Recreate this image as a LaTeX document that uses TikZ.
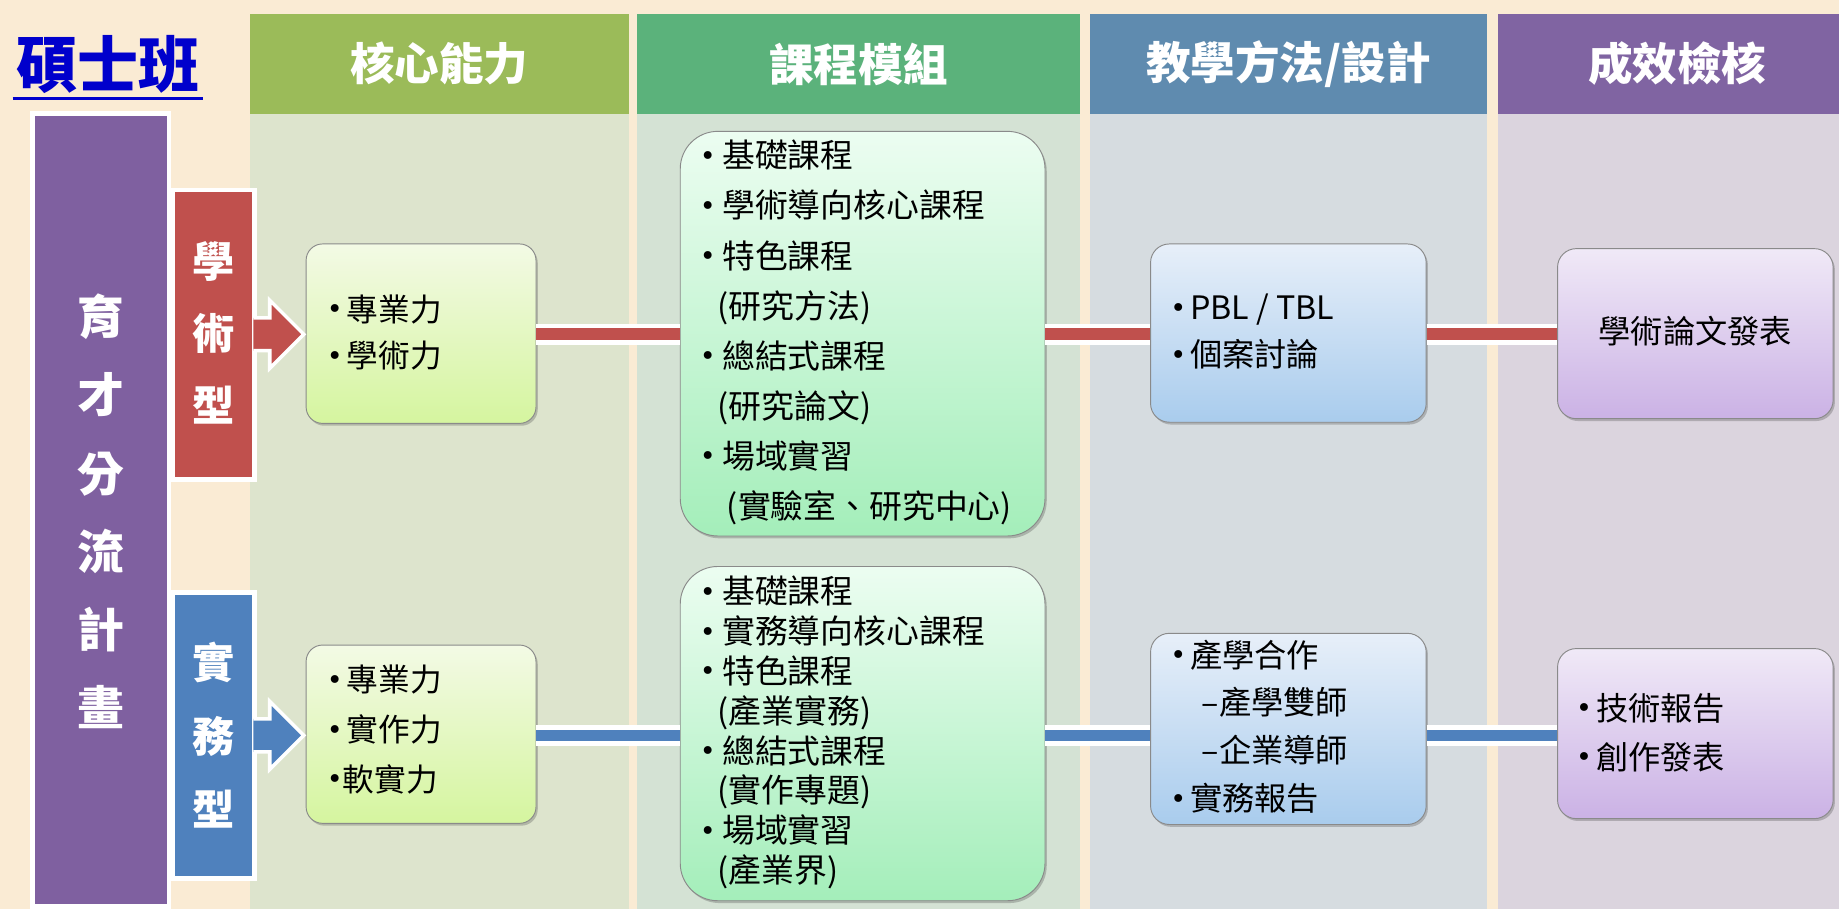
\documentclass[tikz,border=0pt]{standalone}
\usepackage{fontspec}
\setmainfont{Noto Sans CJK TC}
\newfontfamily\bulf{DejaVu Sans}
\usetikzlibrary{calc,shadows}
\definecolor{bgc}{HTML}{FAEBD4}
\definecolor{hA}{HTML}{9BBB59}\definecolor{kA}{HTML}{DDE4CD}
\definecolor{hB}{HTML}{5BB27B}\definecolor{kB}{HTML}{D4E2D4}
\definecolor{hC}{HTML}{5F8BAF}\definecolor{kC}{HTML}{D6DCE0}
\definecolor{hD}{HTML}{8064A2}\definecolor{kD}{HTML}{DBD4DE}
\definecolor{ycol}{HTML}{7F60A0}
\definecolor{redc}{HTML}{C0504D}
\definecolor{bluec}{HTML}{4F81BD}
\definecolor{titleblue}{HTML}{0000CC}
\definecolor{boxline}{HTML}{8A8A8A}
\definecolor{gAt}{HTML}{F3FAE5}\definecolor{gAb}{HTML}{D5F59F}
\definecolor{gBt}{HTML}{ECFDF1}\definecolor{gBb}{HTML}{A4EEBA}
\definecolor{gCt}{HTML}{E7EFF9}\definecolor{gCb}{HTML}{A9CCED}
\definecolor{gDt}{HTML}{F0E9F7}\definecolor{gDb}{HTML}{CBB2E5}
\newcommand\dotglyph{\raisebox{2pt}{\bulf\fontsize{23}{23}\selectfont •}}
\newcommand\bu{\makebox[19pt][l]{\dotglyph}}
\newcommand\bus{\makebox[17pt][l]{\dotglyph}}
\newcommand\bun{\makebox[13.5pt][l]{\dotglyph}}
\newcommand\blkarrow[2]{%
  \fill[#2] (#1) ++(0,-14) -- ++(14,0) -- ++(0,-15) -- ++(29,29) -- ++(-29,29) -- ++(0,-15) -- ++(-14,0) -- cycle;
  \draw[white,line width=3pt,line join=miter] (#1) ++(0,-14) -- ++(14,0) -- ++(0,-15) -- ++(29,29) -- ++(-29,29) -- ++(0,-15) -- ++(-14,0);}
\begin{document}
\begin{tikzpicture}[x=1pt,y=-1pt,
  hdr/.style={rectangle,inner sep=0,minimum height=85pt},
  colbody/.style={rectangle,inner sep=0,minimum height=678pt},
  hdrtxt/.style={text=white,inner sep=0,font=\fontsize{38}{46}\selectfont\bfseries},
  catbox/.style={rectangle,draw=white,line width=4pt,inner sep=0},
  vtxt/.style={text=white,inner sep=0,align=center},
  boxbase/.style={draw=boxline,line width=0.8pt,inner sep=0,
    drop shadow={shadow xshift=1.5pt,shadow yshift=-2pt,opacity=0.3,fill=black!70}},
  boxA/.style={boxbase,rounded corners=14pt,top color=gAt,bottom color=gAb,minimum width=196pt},
  boxB/.style={boxbase,rounded corners=32pt,top color=gBt,bottom color=gBb,minimum width=311pt},
  boxC/.style={boxbase,rounded corners=16pt,top color=gCt,bottom color=gCb,minimum width=235pt},
  boxD/.style={boxbase,rounded corners=16pt,top color=gDt,bottom color=gDb,minimum width=235pt},
  txt/.style={align=left,inner sep=0,text=black},
  redbar/.style={draw=redc,line width=10pt,preaction={draw=white,line width=18pt}},
  bluebar/.style={draw=bluec,line width=10pt,preaction={draw=white,line width=18pt}}]
\useasboundingbox (0,0) rectangle (1568,775);
\fill[bgc] (0,0) rectangle (1568,775);
% columns
\node[hdr,fill=hA,minimum width=323pt] (hA) at (374.5,54.5) {};
\node[hdr,fill=hB,minimum width=378pt] (hB) at (732,54.5) {};
\node[hdr,fill=hC,minimum width=339pt] (hC) at (1098.5,54.5) {};
\node[hdr,fill=hD,minimum width=291pt] (hD) at (1422.5,54.5) {};
\node[colbody,fill=kA,minimum width=323pt] (kA) at (374.5,436) {};
\node[colbody,fill=kB,minimum width=378pt] (kB) at (732,436) {};
\node[colbody,fill=kC,minimum width=339pt] (kC) at (1098.5,436) {};
\node[colbody,fill=kD,minimum width=291pt] (kD) at (1422.5,436) {};
\node[hdrtxt] (hAt) at (hA) {核心能力};
\node[hdrtxt] (hBt) at (hB) {課程模組};
\node[hdrtxt] (hCt) at (hC) {教學方法/設計};
\node[hdrtxt] (hDt) at (1430,54.5) {成效檢核};
% title
\node[inner sep=0,text=titleblue,font=\fontsize{52}{60}\selectfont\bfseries] (title) at (92,55) {碩士班};
\coordinate (ul) at (0,84);
\draw[titleblue,line width=3pt] ($(title.west |- ul)+(-3,0)$) -- ($(title.east |- ul)+(3,0)$);
% left category boxes
\node[catbox,fill=ycol,minimum width=116pt,minimum height=676pt] (yc) at (86,435) {};
\node[vtxt,font=\fontsize{40}{66.6}\selectfont\bfseries] (yct) at (86,436) {育\\才\\分\\流\\計\\畫};
\node[catbox,fill=redc,minimum width=70pt,minimum height=247pt] (xa) at (182,285.5) {};
\node[vtxt,font=\fontsize{36}{61.5}\selectfont\bfseries] (xat) at (182,284) {學\\術\\型};
\node[catbox,fill=bluec,minimum width=70pt,minimum height=244pt] (xb) at (182,627) {};
\node[vtxt,font=\fontsize{36}{62.5}\selectfont\bfseries] (xbt) at (182,627) {實\\務\\型};
\coordinate (redY) at (0,285);
\coordinate (blueY) at (0,627);
% content boxes
\node[boxA,minimum height=153pt] (a1) at (359,284.5) {};
\node[boxA,minimum height=152pt] (a2) at (359,626) {};
\node[boxB,minimum height=345pt] (b1) at (735.5,284.5) {};
\node[boxB,minimum height=285pt] (b2) at (735.5,625.5) {};
\node[boxC,minimum height=152pt] (d1) at (1098.5,284) {};
\node[boxC,minimum height=163pt] (d2) at (1098.5,621.5) {};
\node[boxD,minimum height=145pt] (e1) at (1445.5,284.5) {};
\node[boxD,minimum height=145pt] (e2) at (1445.5,625.5) {};
% texts
\node[txt,anchor=west,font=\fontsize{27}{40}\selectfont] (a1t) at ($(a1.west)+(18,-1)$) {\bus 專業力\\\bus 學術力};
\node[txt,anchor=west,font=\fontsize{27}{42.5}\selectfont] (a2t) at ($(a2.west)+(18,-4)$) {\bus 專業力\\\bus 實作力\\\bun 軟實力};
\node[txt,anchor=west,font=\fontsize{28}{42.7}\selectfont] (b1t) at ($(b1.west)+(17,-1)$) {\bu 基礎課程\\\bu 學術導向核心課程\\\bu 特色課程\\\hspace*{15pt}(研究方法)\\\bu 總結式課程\\\hspace*{15pt}(研究論文)\\\bu 場域實習\\\hspace*{23pt}(實驗室、研究中心)};
\node[txt,anchor=west,font=\fontsize{28}{34}\selectfont] (b2t) at ($(b2.west)+(17,-1)$) {\bu 基礎課程\\\bu 實務導向核心課程\\\bu 特色課程\\\hspace*{15pt}(產業實務)\\\bu 總結式課程\\\hspace*{15pt}(實作專題)\\\bu 場域實習\\\hspace*{15pt}(產業界)};
\node[txt,anchor=west,font=\fontsize{27.5}{40}\selectfont] (d1t) at ($(d1.west)+(17,-1)$) {\bus PBL / TBL\\\bus 個案討論};
\node[txt,anchor=west,font=\fontsize{27.5}{40.7}\selectfont] (d2t) at ($(d2.west)+(17,-2)$) {\bus 產學合作\\\hspace*{27pt}–產學雙師\\\hspace*{27pt}–企業導師\\\bus 實務報告};
\node[txt,font=\fontsize{27.5}{40}\selectfont] (e1t) at ($(e1.center)+(0,-2)$) {學術論文發表};
\node[txt,anchor=west,font=\fontsize{27.5}{42}\selectfont] (e2t) at ($(e2.west)+(16,-1)$) {\bus 技術報告\\\bus 創作發表};
% block arrows
\blkarrow{$(xa.east |- redY)+(-3,0)$}{redc}
\blkarrow{$(xb.east |- blueY)+(-3,0)$}{bluec}
% connectors
\draw[redbar] (a1.east |- redY) -- (b1.west |- redY);
\draw[redbar] (b1.east |- redY) -- (d1.west |- redY);
\draw[redbar] (d1.east |- redY) -- (e1.west |- redY);
\draw[bluebar] (a2.east |- blueY) -- (b2.west |- blueY);
\draw[bluebar] (b2.east |- blueY) -- (d2.west |- blueY);
\draw[bluebar] (d2.east |- blueY) -- (e2.west |- blueY);
\end{tikzpicture}
\end{document}
